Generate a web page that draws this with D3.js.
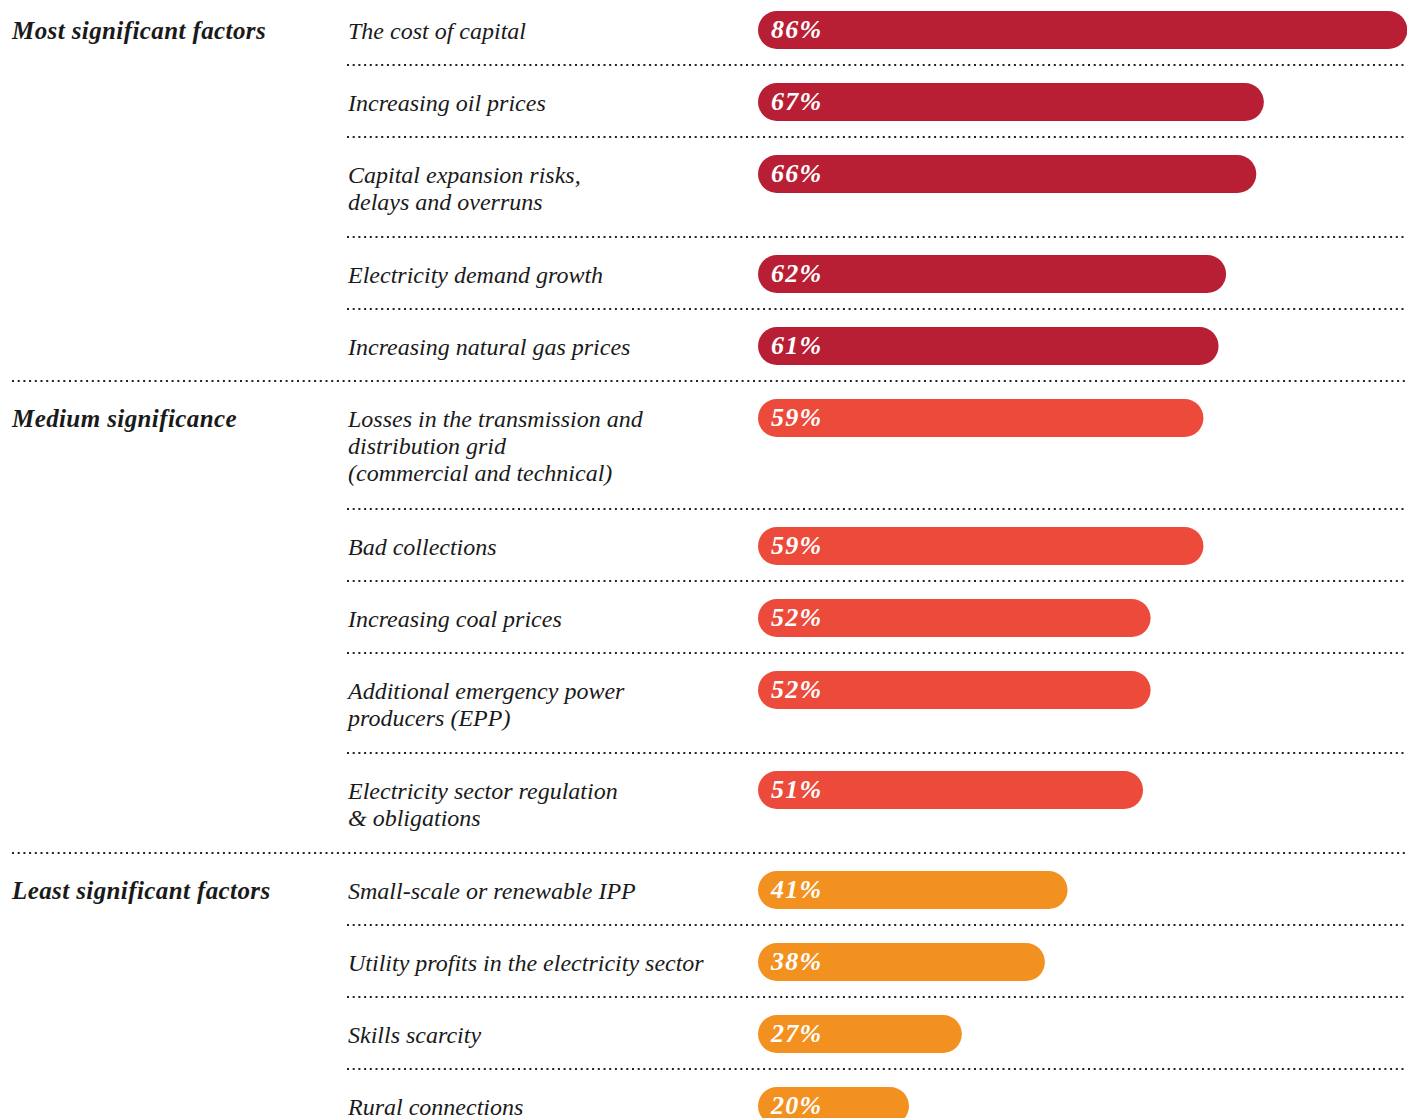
<!DOCTYPE html>
<html>
<head>
<meta charset="utf-8">
<script src="https://cdn.jsdelivr.net/npm/d3@7"></script>
<style>
  body { margin: 0; background: #fff; }
  text { font-family: "Liberation Serif", serif; font-style: italic; }
</style>
</head>
<body>
<script>
var groupNames = ["Most significant factors", "Medium significance", "Least significant factors"];
var groupColors = ["#b81f34", "#ec4b3c", "#f39120"];

// "|" marks a line break in the label
var factorLabels = [
    "The cost of capital",
    "Increasing oil prices",
    "Capital expansion risks,|delays and overruns",
    "Electricity demand growth",
    "Increasing natural gas prices",
    "Losses in the transmission and|distribution grid|(commercial and technical)",
    "Bad collections",
    "Increasing coal prices",
    "Additional emergency power|producers (EPP)",
    "Electricity sector regulation|& obligations",
    "Small-scale or renewable IPP",
    "Utility profits in the electricity sector",
    "Skills scarcity",
    "Rural connections"
];
var factorValues = [86, 67, 66, 62, 61, 59, 59, 52, 52, 51, 41, 38, 27, 20];
var factorGroups = [0, 0, 0, 0, 0, 1, 1, 1, 1, 1, 2, 2, 2, 2];

function barChart() {

    this.init = function () {
        var width = 1407, height = 1118;

        var svg = d3.select("body")
            .append("svg")
            .attr("width", width)
            .attr("height", height);

        var rows = this.layoutRows();

        var x = d3.scaleLinear()
            .domain([0, 100])
            .range([758, 758 + 755]);

        this.drawSeparators(svg, rows, width);
        this.drawLabels(svg, rows);
        this.drawBars(svg, rows, x);
    };


    this.layoutRows = function () {
        var top = -7;
        return factorLabels.map(function (label, i) {
            var lines = label.split("|");
            var h = 72 + 28 * (lines.length - 1);
            var row = {
                lines: lines,
                value: factorValues[i],
                group: factorGroups[i],
                top: top,
                bottom: top + h,
                cy: top + 37
            };
            top += h;
            return row;
        });
    };


    this.drawSeparators = function (svg, rows, width) {
        rows.slice(0, -1).forEach(function (row, i) {
            var groupBreak = rows[i + 1].group !== row.group;
            svg.append("line")
                .attr("x1", groupBreak ? 12 : 347)
                .attr("x2", width)
                .attr("y1", row.bottom)
                .attr("y2", row.bottom)
                .attr("stroke", "#222")
                .attr("stroke-width", 2)
                .attr("stroke-dasharray", "2,3.7");
        });
    };


    this.drawLabels = function (svg, rows) {
        rows.forEach(function (row, i) {
            if (i === 0 || rows[i - 1].group !== row.group) {
                svg.append("text")
                    .attr("x", 12)
                    .attr("y", row.cy + 9)
                    .attr("font-size", 25)
                    .attr("font-weight", "bold")
                    .attr("letter-spacing", 0.4)
                    .attr("fill", "#1a1a1a")
                    .text(groupNames[row.group]);
            }

            var t = svg.append("text")
                .attr("x", 348)
                .attr("y", row.cy + 9)
                .attr("font-size", 24)
                .attr("fill", "#1a1a1a");

            row.lines.forEach(function (line, j) {
                t.append("tspan")
                    .attr("x", 348)
                    .attr("dy", j === 0 ? 0 : 27)
                    .text(line);
            });
        });
    };


    this.drawBars = function (svg, rows, x) {
        var bars = svg.selectAll("g.bar")
            .data(rows)
            .enter()
            .append("g")
            .attr("class", "bar");

        bars.append("rect")
            .attr("x", x(0))
            .attr("y", function (d) { return d.cy - 19; })
            .attr("width", function (d) { return x(d.value) - x(0); })
            .attr("height", 38)
            .attr("rx", 19)
            .attr("fill", function (d) { return groupColors[d.group]; });

        bars.append("text")
            .attr("x", x(0) + 13)
            .attr("y", function (d) { return d.cy + 8; })
            .attr("font-size", 26)
            .attr("font-weight", "bold")
            .attr("letter-spacing", 1.2)
            .attr("fill", "#fff")
            .text(function (d) { return d.value + "%"; });
    };

}


window.onload = function () {
    new barChart().init();
};
</script>
</body>
</html>
